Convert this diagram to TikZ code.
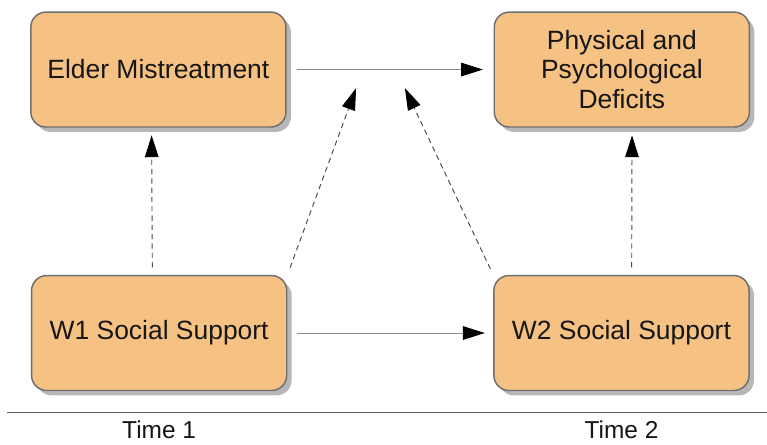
\documentclass[tikz,border=0pt]{standalone}
\usepackage{fontspec}
\setmainfont{Liberation Sans}
\usepackage{xcolor}
\usetikzlibrary{arrows.meta,shadows}
\definecolor{boxfill}{HTML}{F6C284}
\definecolor{edge}{HTML}{6E6E6E}
\definecolor{ink}{HTML}{161616}
\definecolor{rulegray}{HTML}{5A5A5A}
\definecolor{solidgray}{HTML}{8A8A8A}
\tikzset{
  box/.style={draw=edge, fill=boxfill, line width=1.1pt, rounded corners=0.4cm,
    minimum width=6.75cm, minimum height=3.04cm, align=center, text=ink,
    font=\fontsize{19.9}{22.5}\selectfont,
    drop shadow={shadow xshift=0.13cm, shadow yshift=-0.13cm, fill=black!40, opacity=0.7}},
  tip/.style={-{Triangle[length=0.58cm,width=0.36cm,color=black]}},
  link/.style={tip, draw=solidgray, line width=0.8pt},
  dlink/.style={tip, draw=ink!80, line width=0.7pt, dash pattern=on 4pt off 3pt},
  timelab/.style={text=ink, font=\fontsize{18.4}{22}\selectfont, anchor=base},
}

\begin{document}
\begin{tikzpicture}
  \useasboundingbox (0,0) rectangle (20.29,11.75);

  \node[box] (elder) at (4.19,9.91) {Elder Mistreatment};
  \node[box] (deficit) at (16.45,9.91) {Physical and\\Psychological\\Deficits};
  \node[box] (ss1) at (4.21,2.94) {W1 Social Support};
  \node[box] (ss2) at (16.44,2.94) {W2 Social Support};

  % targets on the upper path
  \coordinate (m1) at (9.42,9.42);
  \coordinate (m2) at (10.71,9.42);

  \draw[link, shorten <=0.26cm, shorten >=0.28cm] (elder.east) -- (deficit.west);
  \draw[link, shorten <=0.26cm, shorten >=0.22cm] (ss1.east) -- (ss2.west);

  \draw[dlink, shorten <=0.2cm, shorten >=0.2cm] ([xshift=-0.18cm]ss1.north) -- ([xshift=-0.18cm]elder.south);
  \draw[dlink, shorten <=0.2cm, shorten >=0.2cm] ([xshift=0.27cm]ss2.north) -- ([xshift=0.27cm]deficit.south);
  \draw[dlink, shorten <=0.2cm] (ss1.north east) -- (m1);
  \draw[dlink, shorten <=0.17cm] (ss2.north west) -- (m2);

  \draw[rulegray, line width=0.8pt] (0.19,0.85) -- (20.29,0.85);
  \node[timelab] (t1) at (4.21,0.15) {Time 1};
  \node[timelab] (t2) at (16.44,0.15) {Time 2};
\end{tikzpicture}
\end{document}
